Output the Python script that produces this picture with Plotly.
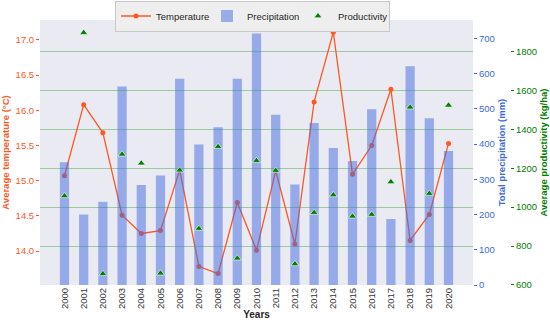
import plotly.graph_objects as go

years = list(range(2000, 2021))
year_labels = [str(y) for y in years]
temperature = [15.07, 16.08, 15.68, 14.51, 14.25, 14.29, 15.15, 13.78, 13.68, 14.69, 14.01,
               15.14, 14.10, 16.12, 17.11, 15.09, 15.50, 16.30, 14.15, 14.52, 15.53]
precipitation = [348, 200, 236, 563, 284, 311, 585, 399, 448, 585, 714,
                 483, 285, 460, 389, 352, 499, 187, 621, 473, 380]
productivity = [1058, 1898, 657, 1272, 1226, 660, 1190, 890, 1311, 737, 1239,
                1188, 708, 972, 1063, 953, 962, 1130, 1514, 1070, 1524]
temp_ticks = [14.0, 14.5, 15.0, 15.5, 16.0, 16.5, 17.0]
precip_ticks = [0, 100, 200, 300, 400, 500, 600, 700]
prod_ticks = [600, 800, 1000, 1200, 1400, 1600, 1800]

FONT = "Liberation Sans, Arial, sans-serif"
C_T = "#FF5722"
C_P = "#4169E1"
C_G = "#008000"

W, H = 550, 325
ML, MR, MT, MB = 40, 0, 20, 40
PW = W - ML - MR
plot_right = 473
xdom_end = (plot_right - ML) / PW
prod_pos = (510 - ML) / PW

fig = go.Figure()
fig.add_trace(go.Scatter(x=years, y=temperature, mode="lines+markers", name="Temperature",
                         line=dict(color=C_T, width=1.3), marker=dict(color=C_T, size=5),
                         yaxis="y"))
fig.add_trace(go.Bar(x=years, y=precipitation, name="Precipitation", width=0.48,
                     marker=dict(color="rgba(65,105,225,0.5)", line=dict(width=0)),
                     yaxis="y2"))
fig.add_trace(go.Scatter(x=years, y=productivity, mode="markers", name="Productivity",
                         marker=dict(symbol="triangle-up", color=C_G, size=7,
                                     line=dict(color="white", width=0.6)),
                         yaxis="y3"))

fig.update_layout(
    width=W, height=H,
    margin=dict(l=ML, r=MR, t=MT, b=MB, autoexpand=False),
    paper_bgcolor="white", plot_bgcolor="#EAEAF2",
    font=dict(family=FONT, size=9.5, color="#262626"),
    showlegend=True,
    legend=dict(orientation="h", xref="container", yref="container",
                x=252.5 / W, xanchor="center", y=1 - 0.5 / H, yanchor="top",
                bgcolor="#EEEEEE", bordercolor="#C8C8C8", borderwidth=1,
                font=dict(size=9.5, color="#262626"), traceorder="normal",
                itemwidth=30, entrywidth=46),
    xaxis=dict(domain=[0, xdom_end], range=[1998.725, 2021.275], tickmode="array",
               tickvals=years, ticktext=year_labels, tickangle=-90, showgrid=False,
               zeroline=False, ticks="", automargin=False, showline=False,
               tickfont=dict(size=9.5, color="#333333"),
               title=dict(text="Years", font=dict(size=10, weight="bold", color="#262626"),
                          standoff=2)),
    yaxis=dict(range=[13.517, 17.284], tickmode="array", tickvals=temp_ticks,
               tickformat=".1f", showgrid=False, zeroline=False, automargin=False,
               showline=False, ticks="outside", ticklen=3, tickcolor=C_T,
               tickfont=dict(color=C_T, size=9.5),
               title=dict(text="Average temperature (°C)",
                          font=dict(color=C_T, size=9.5, weight="bold"), standoff=6)),
    yaxis2=dict(range=[0, 752], overlaying="y", side="right", anchor="x",
                tickmode="array", tickvals=precip_ticks, showgrid=False, zeroline=False,
                automargin=False, showline=False,
                ticks="outside", ticklen=3, tickcolor=C_P,
                tickfont=dict(color=C_P, size=9.5),
                title=dict(text="Total precipitation (mm)",
                           font=dict(color=C_P, size=9.5, weight="bold"), standoff=4)),
    yaxis3=dict(range=[599.5, 1963], overlaying="y", side="right", anchor="free",
                position=prod_pos, tickmode="array", tickvals=prod_ticks,
                showgrid=True, gridcolor="rgba(0,150,0,0.35)", gridwidth=1,
                automargin=False, showline=False,
                zeroline=False, ticks="outside", ticklen=3, tickcolor=C_G,
                tickfont=dict(color=C_G, size=9.5),
                title=dict(text="Average productivity (kg/ha)",
                           font=dict(color=C_G, size=9.5, weight="bold"), standoff=4)),
)

fig.write_html("out.html", config={"displayModeBar": False},
               post_script="document.body.style.margin='0';document.body.style.padding='0';")
